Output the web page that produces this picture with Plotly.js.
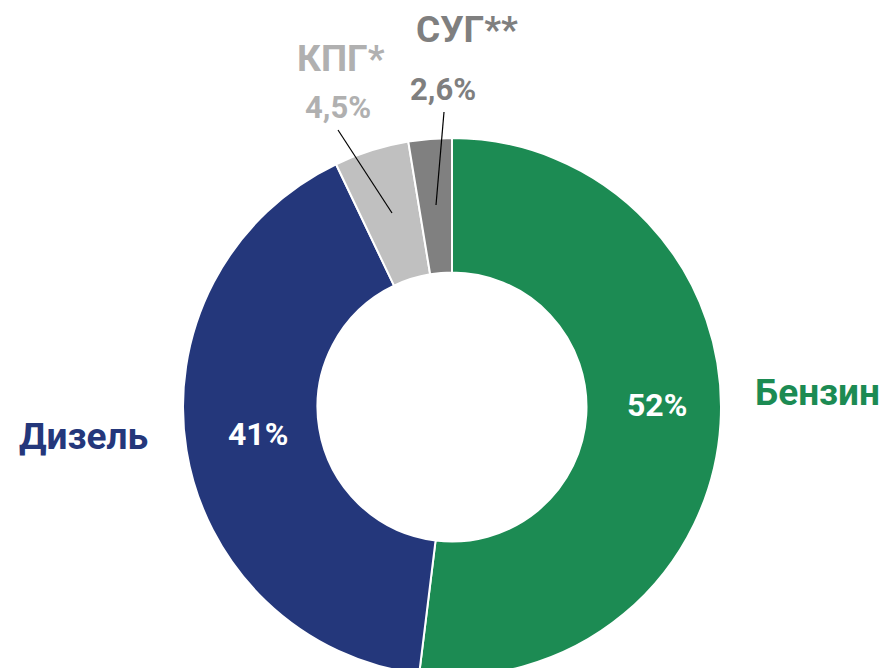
<!DOCTYPE html>
<html>
<head>
<meta charset="utf-8">
<script src="https://cdn.plot.ly/plotly-3.0.1.min.js"></script>
<style>
html, body { margin: 0; padding: 0; overflow: hidden; background: #fff; }
#chart { width: 883px; height: 680px; }
</style>
</head>
<body>
<div id="chart"></div>
<script>
// Data
const categories = ["Бензин", "Дизель", "КПГ*", "СУГ**"];
const values = [52, 41, 4.5, 2.6];
const valueLabels = ["52%", "41%", "4,5%", "2,6%"];
const sliceColors = ["#1c8b53", "#24377b", "#c0c0c0", "#808080"];
const labelColors = ["#1c8b53", "#24377b", "#b0b0b0", "#7f7f7f"];

// Geometry of plot area (pixels)
const L = 183, T = 138, S = 538;
function px(x) { return (x - L) / S; }
function py(y) { return (T + S - y) / S; }

const trace = {
  type: "pie",
  labels: categories,
  values: values,
  hole: 0.5,
  sort: false,
  direction: "clockwise",
  rotation: 0,
  textinfo: "none",
  hoverinfo: "label+value",
  marker: { colors: sliceColors, line: { color: "#ffffff", width: 2 } },
  showlegend: false
};

const F = "Roboto, 'DejaVu Sans', sans-serif";
function ann(text, x, y, color, size) {
  return { text: "<b>" + text + "</b>", xref: "paper", yref: "paper",
           x: px(x), y: py(y), xanchor: "center", yanchor: "middle",
           showarrow: false, font: { family: F, size: size, color: color } };
}

const annotations = [
  ann(categories[0], 817, 392, labelColors[0], 37),
  ann(categories[1], 83, 436, labelColors[1], 37),
  ann(categories[2], 341, 59, labelColors[2], 37),
  ann(categories[3], 467, 29, labelColors[3], 37),
  ann(valueLabels[0], 657, 405, "#ffffff", 32),
  ann(valueLabels[1], 258, 434, "#ffffff", 32),
  ann(valueLabels[2], 338, 108, labelColors[2], 31),
  ann(valueLabels[3], 443, 89, labelColors[3], 31)
];

const shapes = [
  { type: "line", xref: "paper", yref: "paper", x0: px(338), y0: py(130), x1: px(392), y1: py(213),
    line: { color: "#000000", width: 1.2 } },
  { type: "line", xref: "paper", yref: "paper", x0: px(444), y0: py(112), x1: px(436), y1: py(205),
    line: { color: "#000000", width: 1.2 } }
];

const layout = {
  width: 883, height: 680,
  margin: { l: L, r: 883 - L - S, t: T, b: 680 - T - S, pad: 0 },
  paper_bgcolor: "#ffffff",
  plot_bgcolor: "#ffffff",
  annotations: annotations,
  shapes: shapes,
  showlegend: false
};

Plotly.newPlot("chart", [trace], layout, { displayModeBar: false, staticPlot: true });
</script>
</body>
</html>
